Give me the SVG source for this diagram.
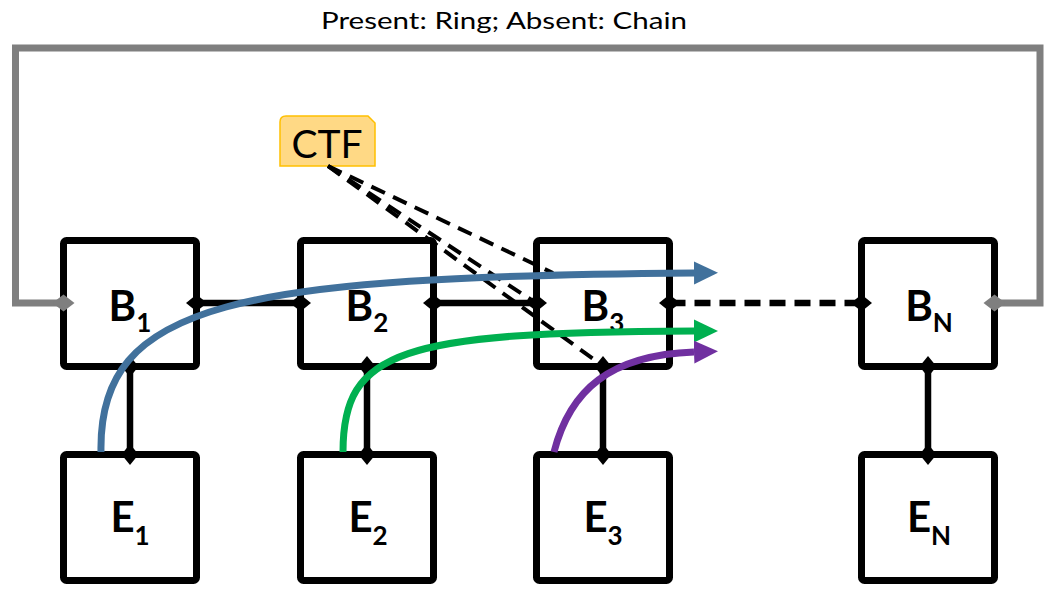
<svg xmlns="http://www.w3.org/2000/svg" width="1051" height="591" viewBox="0 0 1051 591">
  <style>
    .box { fill: #ffffff; stroke: #000000; stroke-width: 7; }
    .lbl { font-family: Lato, "Liberation Sans", sans-serif; font-weight: bold; font-size: 42px; fill: #000000; }
    .sub { font-size: 26px; }
    .link { fill: none; stroke: #000000; stroke-width: 6.5; }
    .ring { fill: none; stroke: #7f7f7f; stroke-width: 7; }
    .ctfline { fill: none; stroke: #000000; stroke-width: 4; stroke-dasharray: 15 9; }
    .flow { fill: none; stroke-width: 7; }
  </style>
  <defs>
    <marker id="dia" markerUnits="userSpaceOnUse" viewBox="-12 -10 24 20" markerWidth="24" markerHeight="20" refX="0" refY="0" orient="auto">
      <path d="M-10.5,0 L0,-8.5 L10.5,0 L0,8.5 Z" fill="#000000"/>
    </marker>
    <marker id="diag" markerUnits="userSpaceOnUse" viewBox="-12 -10 24 20" markerWidth="24" markerHeight="20" refX="0" refY="0" orient="auto">
      <path d="M-11,0 L0,-8.5 L11,0 L0,8.5 Z" fill="#7f7f7f"/>
    </marker>
    <marker id="ahb" markerUnits="userSpaceOnUse" viewBox="0 -12 24 24" markerWidth="24" markerHeight="24" refX="0" refY="0" orient="auto">
      <path d="M0,-11.5 L24,0 L0,11.5 Z" fill="#41719c"/>
    </marker>
    <marker id="ahg" markerUnits="userSpaceOnUse" viewBox="0 -12 24 24" markerWidth="24" markerHeight="24" refX="0" refY="0" orient="auto">
      <path d="M0,-11.5 L24,0 L0,11.5 Z" fill="#00b050"/>
    </marker>
    <marker id="ahp" markerUnits="userSpaceOnUse" viewBox="0 -12 24 24" markerWidth="24" markerHeight="24" refX="0" refY="0" orient="auto">
      <path d="M0,-11.5 L24,0 L0,11.5 Z" fill="#7030a0"/>
    </marker>
  </defs>

  <rect x="0" y="0" width="1051" height="591" fill="#ffffff"/>

  <text x="504" y="29" text-anchor="middle" textLength="366" lengthAdjust="spacingAndGlyphs" font-family="Lato, 'Liberation Sans', sans-serif" font-size="24" fill="#000000">Present: Ring; Absent: Chain</text>

  <g id="node-B1"><rect class="box" x="63.5" y="240.5" width="133" height="126" rx="3"/><text class="lbl" x="130" y="321" text-anchor="middle">B<tspan class="sub" dy="11">1</tspan></text></g>
  <g id="node-B2"><rect class="box" x="300.5" y="240.5" width="133" height="126" rx="3"/><text class="lbl" x="367" y="321" text-anchor="middle">B<tspan class="sub" dy="11">2</tspan></text></g>
  <g id="node-B3"><rect class="box" x="536.5" y="240.5" width="133" height="126" rx="3"/><text class="lbl" x="603" y="321" text-anchor="middle">B<tspan class="sub" dy="11">3</tspan></text></g>
  <g id="node-BN"><rect class="box" x="861.5" y="240.5" width="133" height="126" rx="3"/><text class="lbl" x="929" y="321" text-anchor="middle">B<tspan class="sub" dy="11">N</tspan></text></g>

  <g id="node-E1"><rect class="box" x="63.5" y="454.5" width="133" height="126" rx="3"/><text class="lbl" x="130" y="532" text-anchor="middle">E<tspan class="sub" dy="13">1</tspan></text></g>
  <g id="node-E2"><rect class="box" x="300.5" y="454.5" width="133" height="126" rx="3"/><text class="lbl" x="368" y="532" text-anchor="middle">E<tspan class="sub" dy="13">2</tspan></text></g>
  <g id="node-E3"><rect class="box" x="536.5" y="454.5" width="133" height="126" rx="3"/><text class="lbl" x="603" y="532" text-anchor="middle">E<tspan class="sub" dy="13">3</tspan></text></g>
  <g id="node-EN"><rect class="box" x="861.5" y="454.5" width="133" height="126" rx="3"/><text class="lbl" x="929" y="532" text-anchor="middle">E<tspan class="sub" dy="13">N</tspan></text></g>

  <g id="node-CTF">
    <path d="M286,116 H368 L375,123 V166 H280 V122 Q280,116 286,116 Z" fill="#ffd985" stroke="#ffc000" stroke-width="1.5"/>
    <text x="327" y="158" text-anchor="middle" font-family="Lato, 'Liberation Sans', sans-serif" font-size="39" fill="#000000">CTF</text>
  </g>

  <g id="connectors">
    <polyline class="ring" points="63.5,303 15.5,303 15.5,48 1040,48 1040,303 994.5,303" marker-start="url(#diag)" marker-end="url(#diag)"/>
    <line class="link" x1="196.5" y1="303" x2="300.5" y2="303" marker-start="url(#dia)" marker-end="url(#dia)"/>
    <line class="link" x1="433.5" y1="303" x2="536.5" y2="303" marker-start="url(#dia)" marker-end="url(#dia)"/>
    <line class="link" x1="669.5" y1="303" x2="861.5" y2="303" stroke-dasharray="16 9" marker-start="url(#dia)" marker-end="url(#dia)"/>
    <line class="link" x1="130" y1="366.5" x2="130" y2="454.5" marker-start="url(#dia)" marker-end="url(#dia)"/>
    <line class="link" x1="367" y1="366.5" x2="367" y2="454.5" marker-start="url(#dia)" marker-end="url(#dia)"/>
    <line class="link" x1="603" y1="366.5" x2="603" y2="454.5" marker-start="url(#dia)" marker-end="url(#dia)"/>
    <line class="link" x1="928" y1="366.5" x2="928" y2="454.5" marker-start="url(#dia)" marker-end="url(#dia)"/>

    <line class="ctfline" x1="328" y1="166" x2="553" y2="273"/>
    <line class="ctfline" x1="328" y1="166" x2="536" y2="303"/>
    <line class="ctfline" x1="328" y1="166" x2="603" y2="366"/>

    <path class="flow" stroke="#41719c" d="M101,452 C98,300 240,277 694,273" marker-end="url(#ahb)"/>
    <path class="flow" stroke="#00b050" d="M343,452 C343,350 400,332 694,331" marker-end="url(#ahg)"/>
    <path class="flow" stroke="#7030a0" d="M554,452 C570,390 610,355 694,352" marker-end="url(#ahp)"/>
  </g>
</svg>
